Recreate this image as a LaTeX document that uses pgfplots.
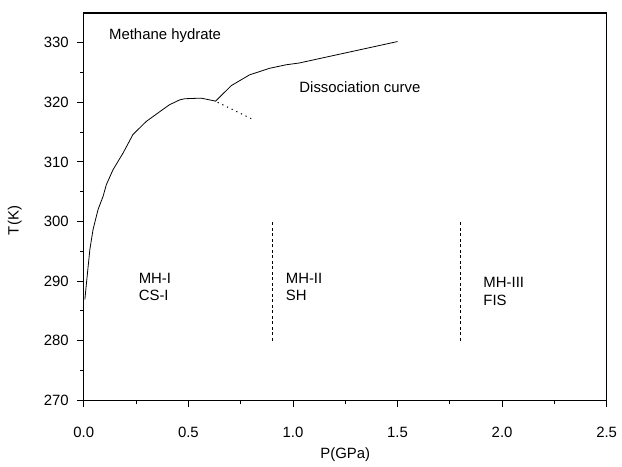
\documentclass[border=0pt]{standalone}
\usepackage{pgfplots}
\pgfplotsset{compat=1.18}
\usetikzlibrary{calc}
\usepackage{fontspec}
\setmainfont{Liberation Sans}
\newcommand{\chartfont}{\fontsize{15}{17.5}\selectfont}
\begin{document}
\chartfont
\begin{tikzpicture}[font=\chartfont]
\begin{axis}[
  scale only axis,
  width=524bp, height=388bp,
  xmin=0, xmax=2.5, ymin=270, ymax=335,
  xtick={0,0.5,1,1.5,2,2.5},
  ytick={270,280,290,300,310,320,330},
  minor x tick num=1, minor y tick num=1,
  tick align=outside,
  xtick pos=bottom, ytick pos=left,
  major tick length=7bp, minor tick length=4bp,
  axis line style={line width=1.2pt},
  every tick/.style={black, line width=0.8pt},
  /pgf/number format/assume math mode=true,
  xticklabel style={yshift=-15bp, /pgf/number format/.cd, fixed, fixed zerofill, precision=1},
  yticklabel style={xshift=-3bp, /pgf/number format/.cd, fixed, precision=0},
  xlabel={P(GPa)}, ylabel={T(K)},
  xlabel style={yshift=0bp},
  ylabel style={yshift=12bp, xshift=-14bp},
  every tick label/.append style={font=\chartfont},
  every axis label/.append style={font=\chartfont},
  clip=false,
]
\addplot[black, line width=0.8pt] coordinates {
 (0.005,286.9) (0.016,290.8) (0.029,295.3) (0.044,298.6) (0.068,302.0)
 (0.092,304.2) (0.108,306.2) (0.140,308.7) (0.188,311.5) (0.235,314.6)
 (0.299,316.8) (0.378,318.8) (0.410,319.6) (0.458,320.4) (0.482,320.6)
 (0.561,320.7) (0.630,320.2) (0.705,322.8) (0.792,324.6) (0.887,325.7)
 (0.967,326.3) (1.03,326.6) (1.5,330.2)
};
\addplot[black, line width=1pt, dash pattern=on 1.2pt off 4pt] coordinates {(0.640,320.0) (0.804,317.2)};
\addplot[black, line width=0.9pt, dash pattern=on 3bp off 2.5bp] coordinates {(0.9,280) (0.9,300)};
\addplot[black, line width=0.9pt, dash pattern=on 3bp off 2.5bp] coordinates {(1.8,280) (1.8,300)};
\node[anchor=west, inner sep=0pt] at (axis cs:0.12,331.2) {Methane hydrate};
\node[anchor=west, inner sep=0pt] at (axis cs:1.03,322.6) {Dissociation curve};
\node[anchor=north west, inner sep=0pt, align=left] at (axis cs:0.262,291.4) {MH-I\\CS-I};
\node[anchor=north west, inner sep=0pt, align=left] at (axis cs:0.965,291.4) {MH-II\\SH};
\node[anchor=north west, inner sep=0pt, align=left] at (axis cs:1.91,290.6) {MH-III\\FIS};
\end{axis}
\path (current axis.south west) ++(-84bp,-61bp) rectangle ($(current axis.north east)+(14bp,13bp)$);
\end{tikzpicture}
\end{document}
